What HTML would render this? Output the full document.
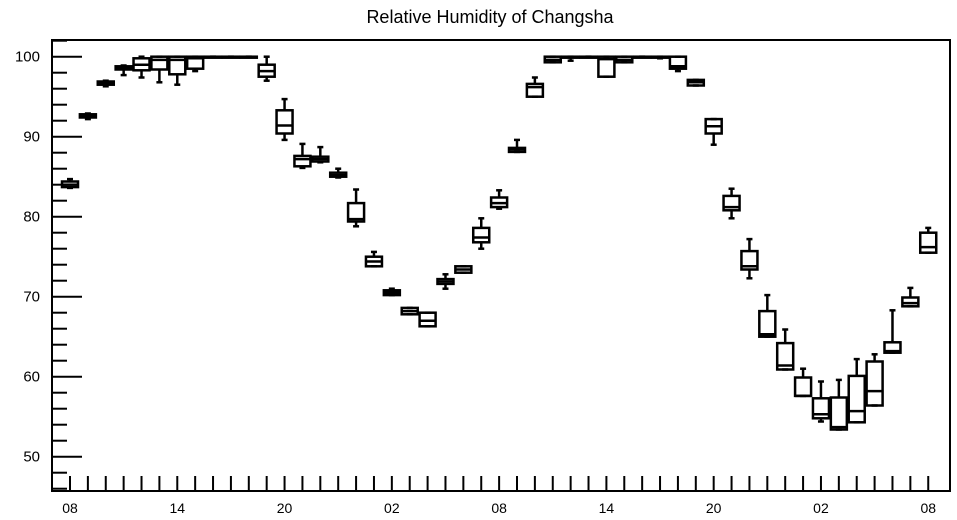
<!DOCTYPE html>
<html><head><meta charset="utf-8"><style>
body{margin:0;background:#fff;}
svg{display:block;font-family:"Liberation Sans",sans-serif;}
</style></head><body>
<svg id="chart" width="957" height="520" xmlns="http://www.w3.org/2000/svg">
<text x="490" y="23" text-anchor="middle" font-size="18">Relative Humidity of Changsha</text>
<rect x="52" y="40" width="898" height="451" fill="none" stroke="#000" stroke-width="2"/>
<g id="axes"></g><g id="boxes"></g>
</svg>
<script>
const xLabels=["08","14","20","02","08","14","20","02","08"];
const yTicks=[50,60,70,80,90,100];
const mins=[83.6,92.2,96.3,97.7,97.4,96.8,96.5,98.2,100,100,100,97,89.6,86.1,86.8,84.9,78.8,73.8,70.2,67.8,66.3,71,73,76,81,88.1,95,99.3,99.5,100,97.5,99.3,100,99.8,98.2,96.4,89,79.8,72.3,65,60.9,57.6,54.4,53.4,54.3,56.4,63,68.8,75.5];
const q1s=[83.7,92.4,96.5,98.4,98.3,98.4,97.8,98.5,100,100,100,97.5,90.4,86.3,86.9,85,79.4,73.8,70.2,67.8,66.3,71.6,73,76.8,81.2,88.1,95,99.3,100,100,97.5,99.3,100,100,98.5,96.4,90.4,80.8,73.4,65,60.9,57.6,54.8,53.4,54.3,56.4,63,68.8,75.5];
const medians=[84,92.6,96.7,98.6,99,99.6,99.6,99.8,100,100,100,98.2,91.4,87.2,87.2,85.2,79.7,74.4,70.5,68.2,67,71.9,73.4,77.4,81.7,88.4,96.2,99.6,100,100,99.7,99.6,100,100,98.8,96.8,91.3,81.2,73.8,65.3,61.4,57.6,55.3,53.7,55.7,58.2,63.2,69.2,76.2];
const q3s=[84.4,92.8,96.9,98.8,99.8,100,100,100,100,100,100,99,93.3,87.6,87.5,85.5,81.7,75,70.8,68.6,68,72.2,73.8,78.6,82.4,88.6,96.6,100,100,100,100,100,100,100,100,97.1,92.2,82.6,75.7,68.2,64.2,59.9,57.3,57.4,60.1,61.9,64.3,69.9,78];
const maxs=[84.7,92.9,97,98.9,100,100,100,100,100,100,100,100,94.7,89.1,88.7,86,83.4,75.6,71,68.6,68,72.8,73.8,79.8,83.3,89.6,97.4,100,100,100,100,100,100,100,100,97.1,92.2,83.5,77.2,70.2,65.9,61,59.4,59.6,62.2,62.8,68.3,71.1,78.6];
const NS="http://www.w3.org/2000/svg";
const X=i=>70+17.88*i;
const Y=v=>56.7+(100-v)*8;
function mk(tag,attrs,parent){const e=document.createElementNS(NS,tag);for(const k in attrs)e.setAttribute(k,attrs[k]);parent.appendChild(e);return e;}
const axes=document.getElementById('axes');
// y minor ticks every 2
for(let v=46;v<=102;v+=2){
  const major=v%10===0;
  const t=mk('line',{x1:52,x2:major?82:67,y1:Y(v),y2:Y(v),stroke:'#000','stroke-width':2},axes);
  
  
}
yTicks.forEach(v=>{
  const t=mk('text',{x:40,y:Y(v)+5,'text-anchor':'end','font-size':15},axes);
  t.textContent=v;
  
  
});
for(let i=0;i<mins.length;i++){
  const t=mk('line',{x1:X(i),x2:X(i),y1:491,y2:476,stroke:'#000','stroke-width':2},axes);
  
  
}
xLabels.forEach((s,j)=>{
  const t=mk('text',{x:X(j*6),y:513,'text-anchor':'middle','font-size':14},axes);
  t.textContent=s;
  
  
});
const boxes=document.getElementById('boxes');
for(let i=0;i<mins.length;i++){
  const g=mk('g',{stroke:'#000','stroke-width':2.5,fill:'none'},boxes);
  
  
  const x=X(i);
  mk('line',{x1:x,x2:x,y1:Y(maxs[i]),y2:Y(q3s[i])},g);
  mk('line',{x1:x,x2:x,y1:Y(q1s[i]),y2:Y(mins[i])},g);
  mk('line',{x1:x-3,x2:x+3,y1:Y(maxs[i]),y2:Y(maxs[i])},g);
  mk('line',{x1:x-3,x2:x+3,y1:Y(mins[i]),y2:Y(mins[i])},g);
  const h=Math.max(Y(q1s[i])-Y(q3s[i]),1);
  mk('rect',{x:x-8,y:Y(q3s[i]),width:16,height:h},g);
  mk('line',{x1:x-8,x2:x+8,y1:Y(medians[i]),y2:Y(medians[i])},g);
}
</script>
</body></html>
